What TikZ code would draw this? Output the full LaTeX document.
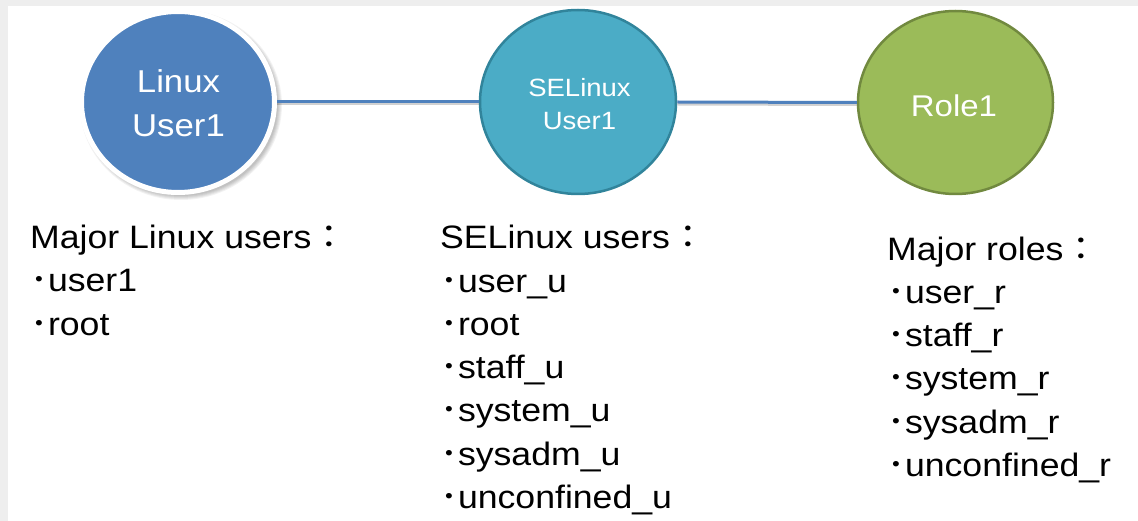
\documentclass[tikz,border=0pt]{standalone}
\usepackage{fontspec}
\setmainfont[FakeStretch=1.1]{Liberation Sans}
\newfontfamily\jpfont[FakeStretch=1.1]{Noto Sans CJK JP}
\usetikzlibrary{shapes.geometric}
\definecolor{framegray}{HTML}{EEEEEE}
\definecolor{linkblue}{HTML}{4F81BD}
\definecolor{tealfill}{HTML}{4BACC6}
\definecolor{tealline}{HTML}{31849B}
\definecolor{olivefill}{HTML}{9BBB59}
\definecolor{oliveline}{HTML}{71893F}
\newcommand{\bul}{{\jpfont ･}}
\newcommand{\fcolon}{{\jpfont ：}}
\tikzset{
  bubble/.style={ellipse, inner sep=0pt},
  link/.style={draw=linkblue, line width=3pt},
  linkshadow/.style={draw=black, opacity=0.18, line width=3pt},
  bubbletext/.style={text=white, inner sep=0pt, anchor=base},
  % multi-line lists are placed by the baseline of their last line
  listtext/.style={align=left, anchor=base west, inner sep=0pt,
    font=\fontsize{32.4}{43.3}\selectfont}
}
\begin{document}
\begin{tikzpicture}[x=1pt, y=-1pt]
  % page background with its grey frame
  \fill[framegray] (0,0) rectangle (1138,521);
  \fill[white] (8,6) rectangle (1138,521);
  \useasboundingbox (0,0) rectangle (1138,521);

  % soft shadow under the first bubble
  \foreach \k in {0,1,2,3,4}
    \fill[black, opacity=0.05] (181,105) ellipse [x radius=97+\k, y radius=91+\k];

  % bubbles
  \node[bubble, fill=linkblue, draw=white, line width=5pt,
        minimum width=193pt, minimum height=181pt] (linux) at (178,102) {};
  \node[bubble, fill=tealfill, draw=tealline, line width=2.5pt,
        minimum width=196pt, minimum height=184pt] (selinux) at (578,102) {};
  \node[bubble, fill=olivefill, draw=oliveline, line width=2.5pt,
        minimum width=195pt, minimum height=183pt] (role) at (955.5,102.5) {};

  % connectors
  \path[linkshadow] ([yshift=-2pt]linux.east) -- ([yshift=-2pt]selinux.west);
  \path[linkshadow] ([yshift=-2pt]selinux.east) -- ([yshift=-2pt]role.west);
  \path[link] (linux.east) -- (selinux.west);
  \path[link] (selinux.east) -- (role.west);

  % bubble labels
  \node[bubbletext, font=\fontsize{31.6}{44}\selectfont] (linuxa) at (178.5,93) {Linux};
  \node[bubbletext, font=\fontsize{31.6}{44}\selectfont] (linuxb) at (178.5,137) {User1};
  \node[bubbletext, font=\fontsize{25}{33}\selectfont] (selinuxa) at (579.5,97) {SELinux};
  \node[bubbletext, font=\fontsize{25}{33}\selectfont] (selinuxb) at (579.5,130) {User1};
  \node[bubbletext, font=\fontsize{30}{36}\selectfont] (rolea) at (954,117) {Role1};

  % lists
  \node[listtext] (linuxlist) at (30,335)
    {Major Linux users\fcolon\\ \bul user1\\ \bul root};
  \node[listtext] (selinuxlist) at (440,508.5)
    {SELinux users\fcolon\\ \bul user\_u\\ \bul root\\ \bul staff\_u\\
     \bul system\_u\\ \bul sysadm\_u\\ \bul unconfined\_u};
  \node[listtext] (rolelist) at (887,476.5)
    {Major roles\fcolon\\ \bul user\_r\\ \bul staff\_r\\ \bul system\_r\\
     \bul sysadm\_r\\ \bul unconfined\_r};
\end{tikzpicture}
\end{document}
